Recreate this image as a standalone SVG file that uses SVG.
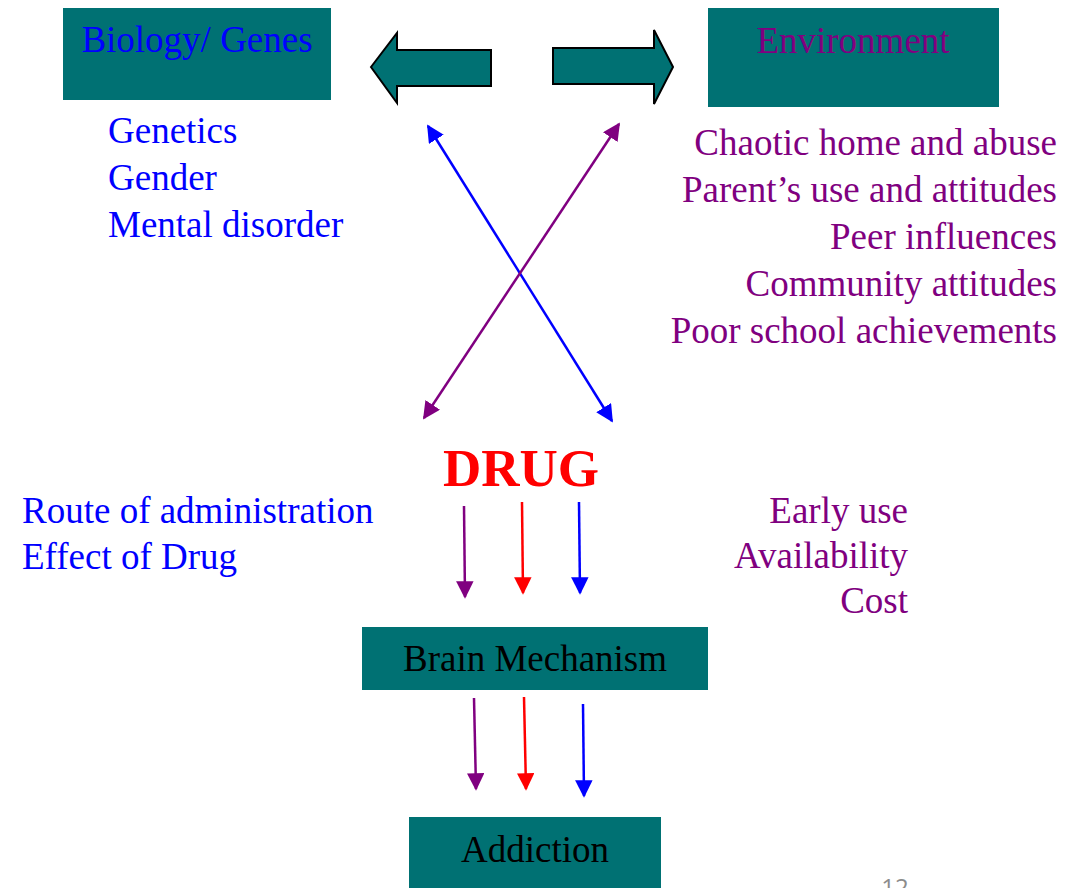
<svg xmlns="http://www.w3.org/2000/svg" width="1073" height="888" viewBox="0 0 1073 888">
<style>
.box{fill:#007173}
.t{font-family:"Liberation Serif","Times New Roman",serif;font-size:37px}
.b{fill:#0000FF}
.p{fill:#800080}
.k{fill:#000000}
.r{text-anchor:end}
.m{text-anchor:middle}
</style>
<defs>
<marker id="ab" viewBox="0 0 10 10" refX="9" refY="5" markerWidth="7" markerHeight="7" markerUnits="strokeWidth" orient="auto-start-reverse"><path d="M0,0 L10,5 L0,10 z" fill="#0000FF"/></marker>
<marker id="ap" viewBox="0 0 10 10" refX="9" refY="5" markerWidth="7" markerHeight="7" markerUnits="strokeWidth" orient="auto-start-reverse"><path d="M0,0 L10,5 L0,10 z" fill="#800080"/></marker>
<marker id="ar" viewBox="0 0 10 10" refX="9" refY="5" markerWidth="7" markerHeight="7" markerUnits="strokeWidth" orient="auto-start-reverse"><path d="M0,0 L10,5 L0,10 z" fill="#FF0000"/></marker>
</defs>
<rect width="1073" height="888" fill="#ffffff"/>
<g id="biology">
<rect class="box" x="63" y="8" width="268" height="92"/>
<text class="t b m" x="197" y="52">Biology/ Genes</text>
</g>
<g id="environment">
<rect class="box" x="708" y="8" width="291" height="99"/>
<text class="t p m" x="853" y="53">Environment</text>
</g>
<g id="biology-factors">
<text class="t b" x="108" y="143">Genetics</text>
<text class="t b" x="108" y="190">Gender</text>
<text class="t b" x="108" y="237">Mental disorder</text>
</g>
<g id="environment-factors">
<text class="t p r" x="1057" y="155">Chaotic home and abuse</text>
<text class="t p r" x="1057" y="202">Parent’s use and attitudes</text>
<text class="t p r" x="1057" y="249">Peer influences</text>
<text class="t p r" x="1057" y="296">Community attitudes</text>
<text class="t p r" x="1057" y="343">Poor school achievements</text>
</g>
<g id="drug">
<text class="m" x="521" y="486" font-family="'Liberation Serif','Times New Roman',serif" font-size="53" font-weight="bold" fill="#FF0000">DRUG</text>
</g>
<g id="drug-factors-left">
<text class="t b" x="22" y="523">Route of administration</text>
<text class="t b" x="22" y="569">Effect of Drug</text>
</g>
<g id="drug-factors-right">
<text class="t p r" x="908" y="523">Early use</text>
<text class="t p r" x="908" y="568">Availability</text>
<text class="t p r" x="908" y="613">Cost</text>
</g>
<g id="brain">
<rect class="box" x="362" y="627" width="346" height="63"/>
<text class="t k m" x="535" y="671">Brain Mechanism</text>
</g>
<g id="addiction">
<rect class="box" x="409" y="817" width="252" height="71"/>
<text class="t k m" x="535" y="862">Addiction</text>
</g>
<g id="page-number">
<text x="895" y="896" font-family="'Open Sans','Liberation Sans',sans-serif" font-size="24" fill="#8c8c8c" text-anchor="middle">12</text>
</g>
<g id="connectors" stroke-width="2.5" fill="none">
<path d="M371,67 L397,33 L397,50 L491,50 L491,86 L397,86 L397,103 Z" fill="#007173" stroke="#000" stroke-width="2"/>
<path d="M673,67 L654,30 L654,48 L553,48 L553,84 L654,84 L654,104 Z" fill="#007173" stroke="#000" stroke-width="2"/>
<line x1="428" y1="126" x2="612" y2="421" stroke="#0000FF" marker-start="url(#ab)" marker-end="url(#ab)"/>
<line x1="619" y1="124" x2="424" y2="418" stroke="#800080" marker-start="url(#ap)" marker-end="url(#ap)"/>
<line x1="464" y1="506" x2="465" y2="597" stroke="#800080" marker-end="url(#ap)"/>
<line x1="522" y1="502" x2="523" y2="593" stroke="#FF0000" marker-end="url(#ar)"/>
<line x1="579" y1="502" x2="580" y2="593" stroke="#0000FF" marker-end="url(#ab)"/>
<line x1="474" y1="698" x2="476" y2="789" stroke="#800080" marker-end="url(#ap)"/>
<line x1="524" y1="697" x2="526" y2="789" stroke="#FF0000" marker-end="url(#ar)"/>
<line x1="583" y1="704" x2="584" y2="796" stroke="#0000FF" marker-end="url(#ab)"/>
</g>
</svg>
